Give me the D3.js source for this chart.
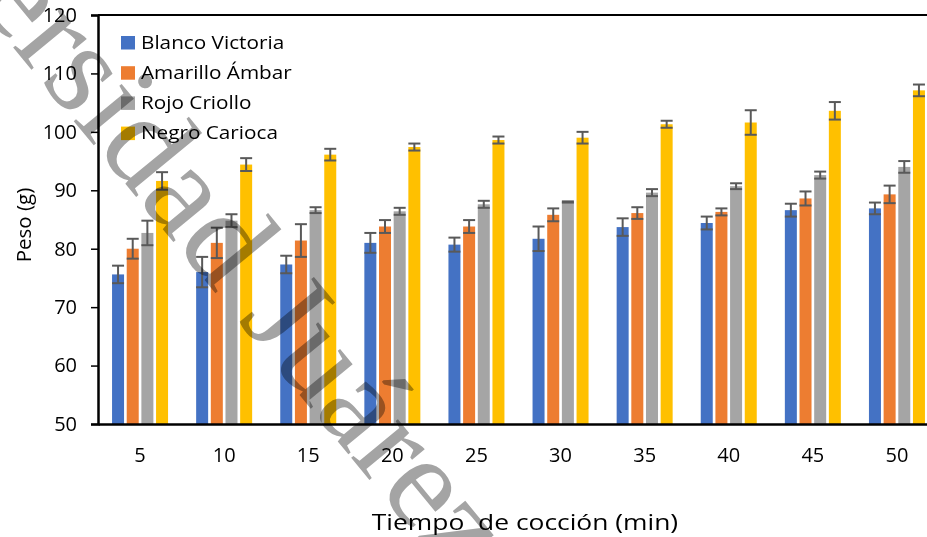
<!DOCTYPE html>
<html>
<head>
<meta charset="utf-8">
<script src="https://cdn.jsdelivr.net/npm/d3@7"></script>
<style>
  html, body { margin: 0; padding: 0; background: #fff; }
  svg { display: block; }
  .wm { mix-blend-mode: multiply; }
</style>
</head>
<body>
<svg id="chart" width="927" height="537"></svg>
<script>
// Cooking time groups (min)
const tiempos = ["5", "10", "15", "20", "25", "30", "35", "40", "45", "50"];
const variedades = ["Blanco Victoria", "Amarillo Ámbar", "Rojo Criollo", "Negro Carioca"];
const colores = ["#4472C4", "#ED7D31", "#A5A5A5", "#FFC000"];

// Mean weight (g) per variety
const blancoVictoria = [75.6, 76.0, 77.3, 81.0, 80.7, 81.7, 83.7, 84.4, 86.6, 86.9];
const amarilloAmbar  = [80.0, 81.0, 81.4, 83.8, 83.8, 85.8, 86.1, 86.3, 88.6, 89.3];
const rojoCriollo    = [82.7, 84.8, 86.6, 86.4, 87.6, 88.0, 89.6, 90.7, 92.6, 94.0];
const negroCarioca   = [91.6, 94.4, 96.1, 97.4, 98.6, 99.0, 101.3, 101.6, 103.6, 107.1];

// Standard deviation (g) per variety
const errBlanco   = [1.5, 2.6, 1.5, 1.7, 1.2, 2.1, 1.5, 1.1, 1.1, 1.0];
const errAmarillo = [1.7, 2.6, 2.8, 1.1, 1.1, 1.1, 1.0, 0.6, 1.2, 1.5];
const errRojo     = [2.1, 1.1, 0.5, 0.6, 0.6, 0.1, 0.6, 0.5, 0.6, 1.0];
const errNegro    = [1.5, 1.1, 1.0, 0.6, 0.6, 1.0, 0.6, 2.1, 1.5, 1.0];

const yTicks = [50, 60, 70, 80, 90, 100, 110, 120];

const series = [blancoVictoria, amarilloAmbar, rojoCriollo, negroCarioca];
const errors = [errBlanco, errAmarillo, errRojo, errNegro];

const svg = d3.select("#chart");
const fontFam = "'Open Sans', Lato, sans-serif";
const widen = 1.12; // horizontal glyph stretch for labels

// Stretch a text selection horizontally about its anchor
function stretch(sel, factor = widen) {
  sel.each(function() {
    const w = this.getComputedTextLength();
    d3.select(this).attr("textLength", w * factor).attr("lengthAdjust", "spacingAndGlyphs");
  });
}

const plotLeft = 98, plotTop = 15, plotBottom = 424;
const groupStep = 84.1;

const x0 = d3.scaleBand().domain(tiempos).range([plotLeft, plotLeft + groupStep * tiempos.length]).padding(0);
const x1 = d3.scaleBand().domain(d3.range(variedades.length)).range([0, 56]).paddingInner(0.182).paddingOuter(0);
const y = d3.scaleLinear().domain([50, 120]).range([plotBottom, plotTop]);

// Bars
const groups = svg.append("g").selectAll("g")
  .data(tiempos)
  .join("g")
  .attr("transform", d => `translate(${x0(d) + x0.bandwidth() / 2 - 28},0)`);

groups.each(function(t, i) {
  const g = d3.select(this);
  series.forEach((s, k) => {
    g.append("rect")
      .attr("x", x1(k))
      .attr("y", y(s[i]))
      .attr("width", x1.bandwidth())
      .attr("height", y(50) - y(s[i]))
      .attr("fill", colores[k]);
  });
  series.forEach((s, k) => {
    const cx = x1(k) + x1.bandwidth() / 2;
    const hi = y(s[i] + errors[k][i]);
    const lo = y(s[i] - errors[k][i]);
    const eg = g.append("g").attr("stroke", "#595959").attr("stroke-width", 2);
    eg.append("line").attr("x1", cx).attr("x2", cx).attr("y1", hi).attr("y2", lo);
    eg.append("line").attr("x1", cx - 6).attr("x2", cx + 6).attr("y1", hi).attr("y2", hi);
    eg.append("line").attr("x1", cx - 6).attr("x2", cx + 6).attr("y1", lo).attr("y2", lo);
  });
});

// Y axis
const yAxis = d3.axisLeft(y).tickValues(yTicks).tickSize(7).tickPadding(14);
const ya = svg.append("g").attr("transform", `translate(${plotLeft},0)`).call(yAxis);
ya.select(".domain").attr("stroke", "#000").attr("stroke-width", 2.5);
ya.selectAll(".tick line").attr("stroke", "#000").attr("stroke-width", 1.5);
ya.selectAll(".tick text").attr("font-family", fontFam).attr("font-size", 20).attr("fill", "#000");

// X axis (no tick marks)
const xAxis = d3.axisBottom(x0).tickSize(0).tickPadding(24);
const xa = svg.append("g").attr("transform", `translate(0,${plotBottom})`).call(xAxis);
xa.select(".domain").attr("stroke", "#000").attr("stroke-width", 2.5);
xa.selectAll(".tick text").attr("font-family", fontFam).attr("font-size", 20).attr("fill", "#000");

// Top border line
svg.append("line")
  .attr("x1", plotLeft).attr("x2", 927)
  .attr("y1", y(120)).attr("y2", y(120))
  .attr("stroke", "#000").attr("stroke-width", 2);

// Axis titles
svg.append("text")
  .attr("transform", "translate(31,225) rotate(-90)")
  .attr("text-anchor", "middle")
  .attr("font-family", fontFam).attr("font-size", 20.5)
  .text("Peso (g)");

svg.append("text")
  .attr("x", 525).attr("y", 530)
  .attr("text-anchor", "middle")
  .attr("font-family", fontFam).attr("font-size", 22)
  .attr("xml:space", "preserve")
  .text("Tiempo  de cocción (min)")
  .call(stretch, 1.2);

// Legend
const legend = svg.append("g").selectAll("g")
  .data(variedades)
  .join("g")
  .attr("transform", (d, i) => `translate(121,${36 + i * 30.2})`);
legend.append("rect")
  .attr("x", 0).attr("y", 0).attr("width", 14).attr("height", 13.5)
  .attr("fill", (d, i) => colores[i]);
legend.append("text")
  .attr("x", 20).attr("y", 12.5)
  .attr("font-family", fontFam).attr("font-size", 18.5)
  .text(d => d)
  .call(stretch);

// Diagonal watermark
svg.append("text")
  .attr("class", "wm")
  .attr("transform", "translate(452,580) rotate(50.5)")
  .attr("text-anchor", "end")
  .attr("font-family", "'Liberation Serif', 'DejaVu Serif', serif")
  .attr("font-size", 132)
  .attr("fill", "#a4a4a4")
  .text("Universidad Juárez");
</script>
</body>
</html>
